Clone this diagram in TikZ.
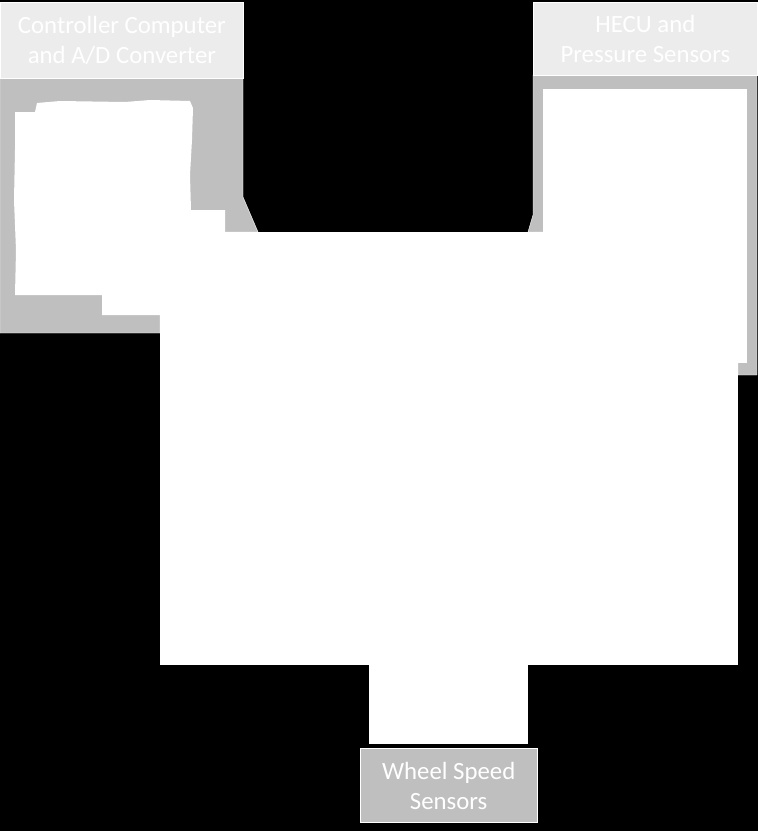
\documentclass[tikz,border=0pt]{standalone}
\usepackage{fontspec}
\setmainfont{Carlito}
\usetikzlibrary{
  positioning,  % Function "of" (e.g. [below=of x])
}
\definecolor{hdrgray}{RGB}{236,236,236}
\definecolor{pnlgray}{RGB}{191,191,191}
\tikzset{
  semithick,
  px/.style={x=1pt,y=-1pt},
  my label/.style={
    text=white,
    font=\fontsize{24.8}{30}\selectfont,
    align=center,
    inner sep=0pt,
    rectangle
  },
  my header/.style={
    my label,
    fill=hdrgray,
    draw=white,
    line width=0.8pt,
    anchor=north west
  },
  my sensor/.style={
    my label,
    fill=pnlgray,
    draw=white,
    line width=0.8pt,
    minimum width=177pt,
    minimum height=74pt
  },
  my panel/.style={
    fill=pnlgray,
    draw=white,
    line width=0.4pt
  },
  my photo/.style={
    fill=white,
    draw=none,
    inner sep=0pt,
    anchor=north west
  }
}

\begin{document}
\begin{tikzpicture}[px]
\fill[black] (0,0) rectangle (758,831);
\useasboundingbox (0,0) rectangle (758,831);
% panels
\filldraw[my panel] (0,78) -- (243,78) -- (243,197) -- (258,232) -- (160,232)
  -- (160,333) -- (0,333) -- cycle;
\filldraw[my panel] (533,75) -- (757,75) -- (757,375) -- (738,375) -- (738,232)
  -- (528,232) -- (533,215) -- cycle;
% photos
\fill[white] (15,112) -- (35,112) -- (37,103) -- (60,101) -- (125,102) -- (150,100)
  -- (190,101) -- (193,108) -- (192,140) -- (190,175) -- (191,210) -- (225,210)
  -- (225,232) -- (160,232) -- (160,315) -- (102,315) -- (102,295) -- (15,295)
  -- (16,250) -- (14,200) -- (15,150) -- cycle;
\node[my photo, minimum width=204pt, minimum height=274pt] (hecuimg) at (543,89) {};
\node[my photo, minimum width=578pt, minimum height=433pt] (bench)   at (160,232) {};
\node[my photo, minimum width=159pt, minimum height=80pt]  (feed)    at (369,664) {};
% labels
\node[my header, minimum width=243pt, minimum height=76pt] (ctrl) at (0,2)
  {Controller Computer\\and A/D Converter};
\node[my header, minimum width=224pt, minimum height=73pt] (hecu) at (533,2)
  {HECU and\\Pressure Sensors};
\node[my sensor, below=4pt of feed] (wheel) {Wheel Speed\\Sensors};
\end{tikzpicture}
\end{document}
